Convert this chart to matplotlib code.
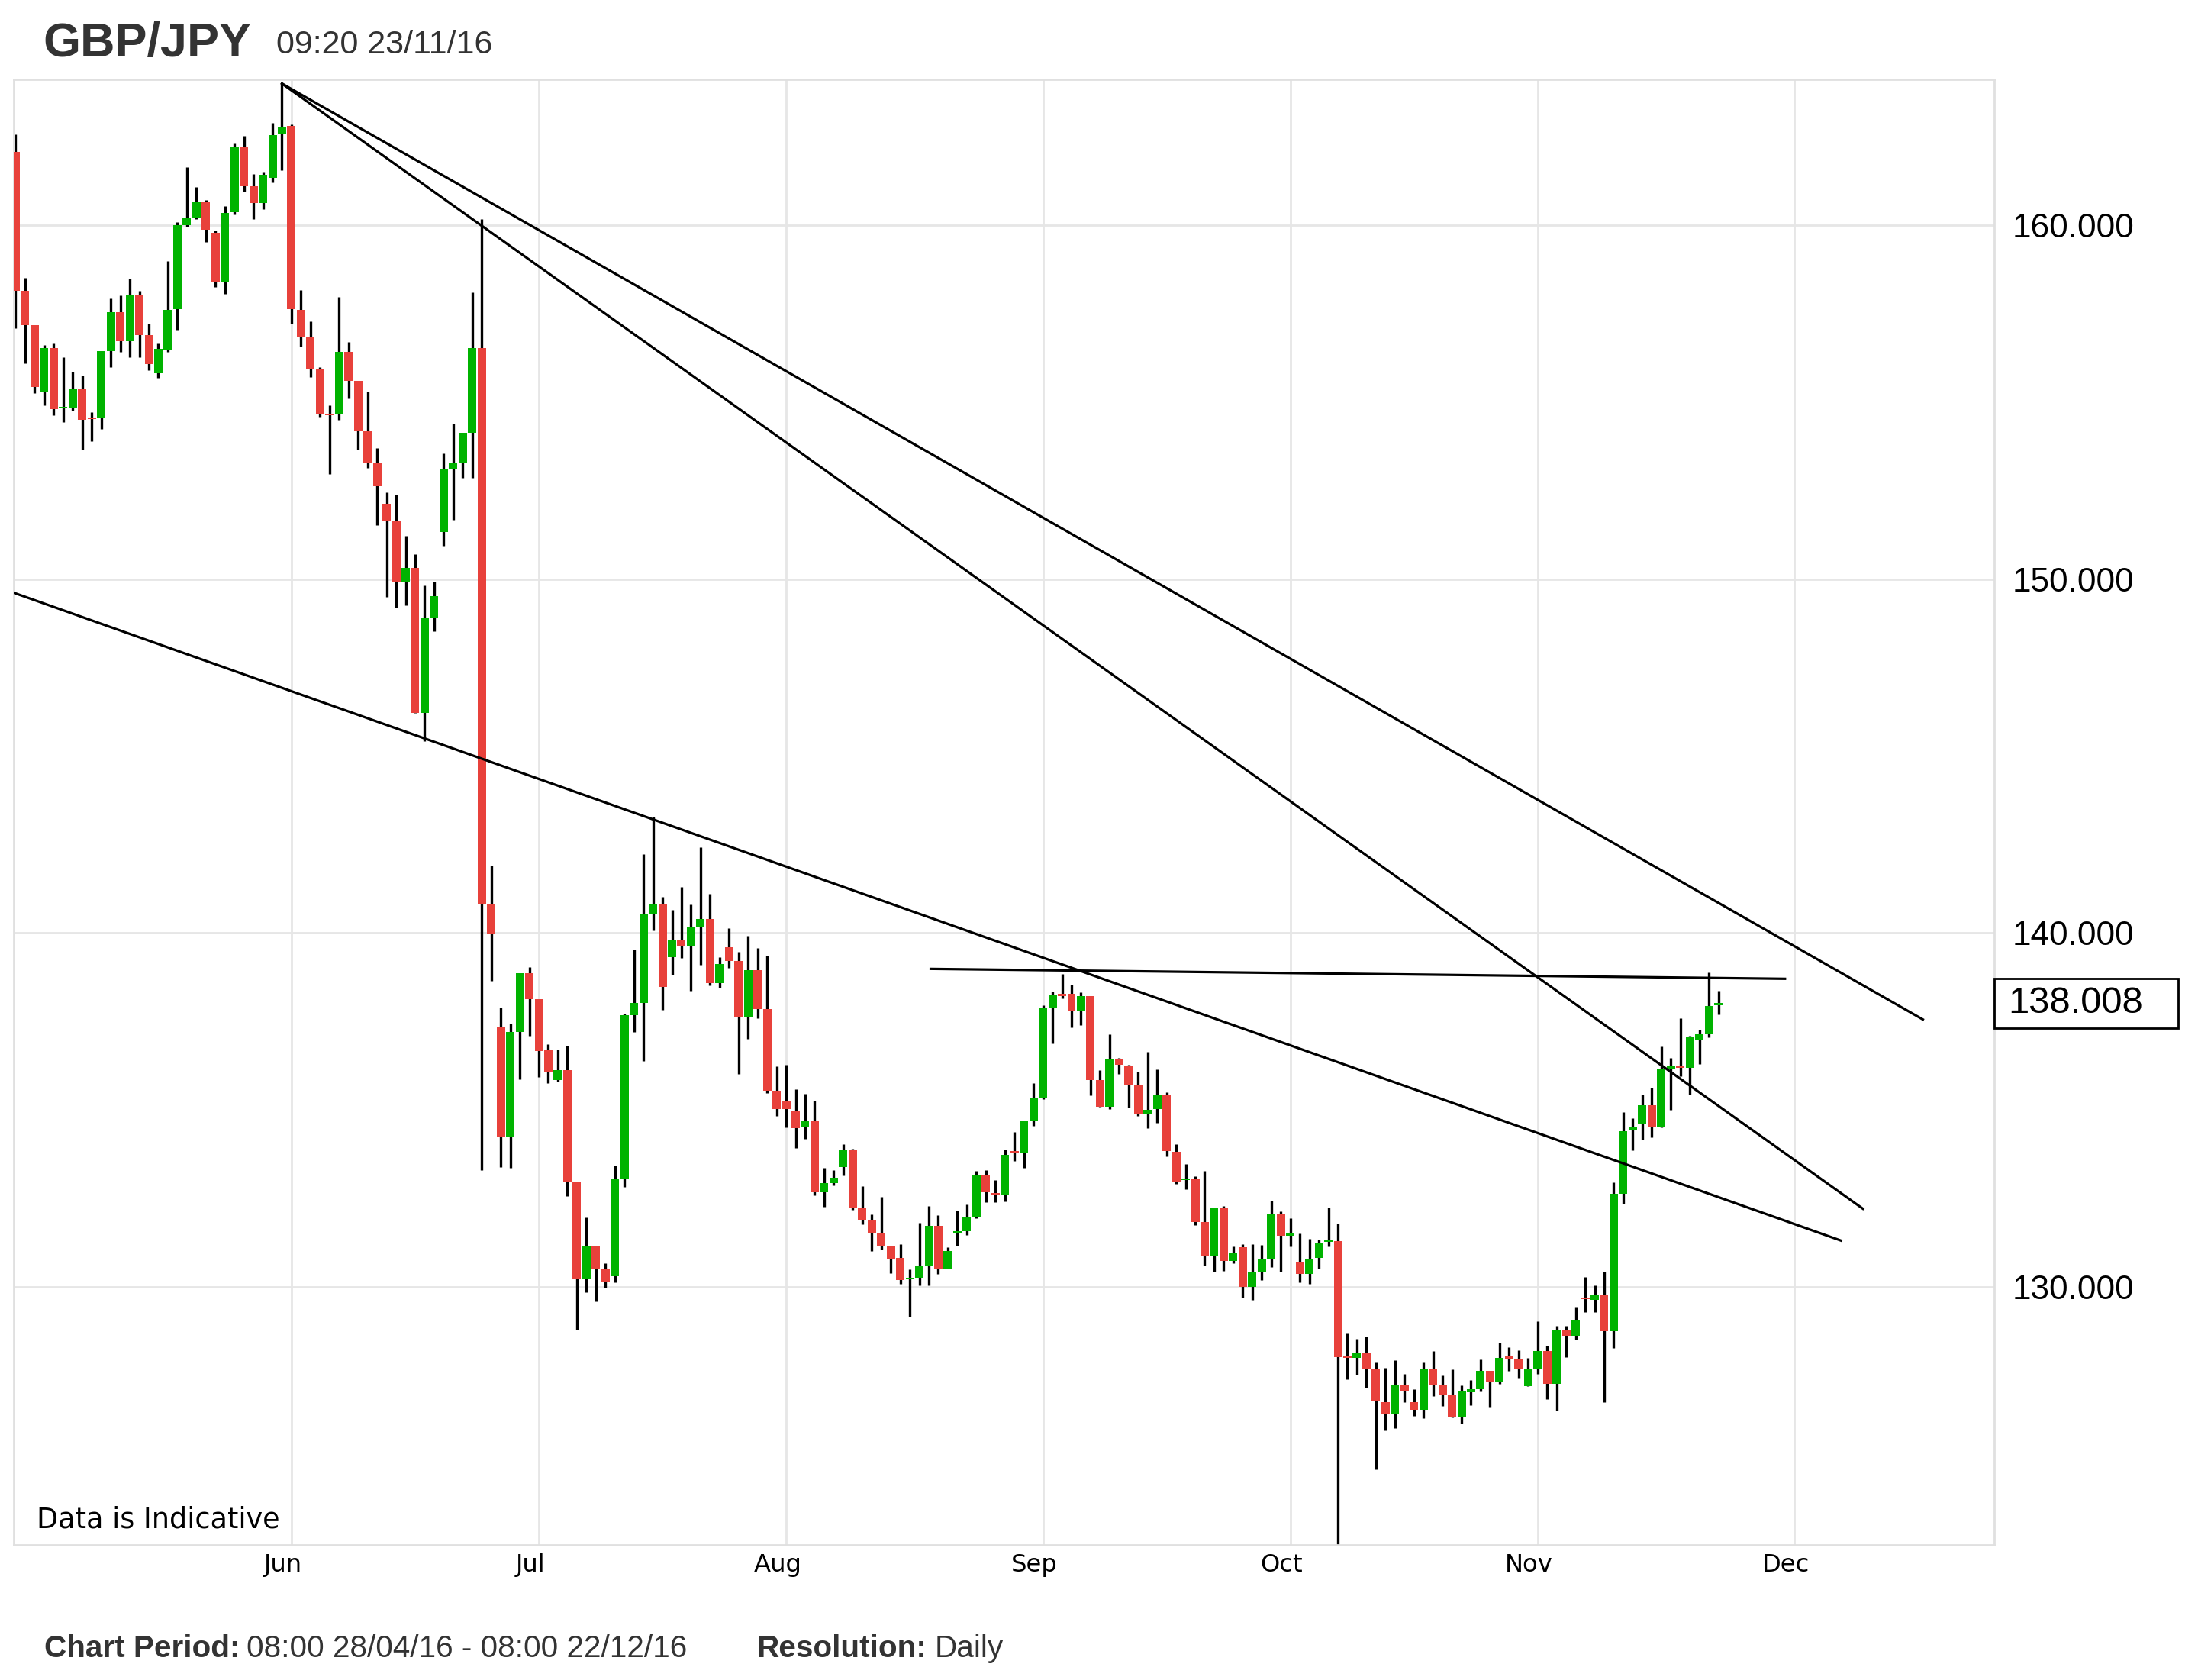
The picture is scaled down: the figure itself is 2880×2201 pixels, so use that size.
import matplotlib
matplotlib.use("Agg")
import matplotlib.pyplot as plt
import matplotlib.transforms as mtransforms
from matplotlib.patches import Rectangle
import numpy as np

plt.rcParams['font.family'] = ['Liberation Sans', 'DejaVu Sans']

# Daily GBP/JPY candles, Sun-Fri sessions, 28/04/16 .. 23/11/16
opens = [162.06, 158.15, 157.18, 155.29, 156.53, 154.82, 154.84, 155.37, 154.55, 154.56,
         156.45, 157.54, 156.73, 158.01, 156.89, 155.82, 156.47, 157.63, 160.00, 160.22,
         160.64, 159.79, 158.39, 160.36, 162.21, 161.11, 160.62, 161.33, 162.57, 162.80,
         157.60, 156.85, 155.94, 154.64, 154.64, 156.41, 155.59, 154.17, 153.28, 152.12,
         151.64, 149.91, 150.32, 146.21, 148.90, 151.33, 153.10, 153.30, 154.13, 156.53,
         140.79, 137.35, 134.24, 137.20, 138.86, 138.12, 136.67, 135.83, 136.12, 132.94,
         130.23, 131.13, 130.48, 130.29, 133.06, 137.67, 138.02, 140.55, 140.82, 139.31,
         139.78, 139.64, 140.16, 140.39, 138.58, 139.59, 139.20, 137.62, 138.94, 137.84,
         135.53, 135.23, 134.98, 134.49, 134.69, 132.67, 132.93, 133.37, 133.87, 132.21,
         131.89, 131.52, 131.15, 130.81, 130.20, 130.24, 130.59, 131.71, 130.50, 131.51,
         131.57, 131.97, 133.17, 132.65, 132.60, 133.82, 133.79, 134.69, 135.33, 137.88,
         138.24, 138.27, 137.79, 138.22, 135.83, 135.09, 136.42, 136.22, 135.68, 134.86,
         135.01, 135.40, 133.81, 133.01, 133.06, 131.83, 130.85, 132.23, 130.72, 131.12,
         129.99, 130.43, 130.77, 132.05, 131.44, 130.68, 130.36, 130.81, 131.26, 131.28,
         128.01, 127.99, 128.12, 127.66, 126.73, 126.38, 127.23, 126.73, 126.51, 127.67,
         127.24, 126.94, 126.32, 127.02, 127.10, 127.61, 127.32, 128.00, 127.96, 127.19,
         127.67, 128.18, 127.26, 128.77, 128.61, 129.68, 129.62, 129.75, 128.74, 132.63,
         134.43, 134.61, 135.13, 134.53, 136.17, 136.22, 136.19, 136.99, 137.14, 137.96]
highs = [162.57, 158.51, 157.18, 156.62, 156.65, 156.27, 155.86, 155.76, 154.72, 156.44,
         157.92, 158.01, 158.49, 158.15, 157.22, 156.65, 158.98, 160.08, 161.64, 161.07,
         160.71, 159.85, 160.54, 162.30, 162.53, 161.44, 161.50, 162.90, 164.00, 162.85,
         158.17, 157.28, 155.98, 154.91, 157.98, 156.69, 155.59, 155.29, 153.69, 152.45,
         152.39, 151.21, 150.70, 149.81, 149.93, 153.54, 154.38, 154.13, 158.11, 160.17,
         141.91, 137.88, 137.44, 138.86, 139.02, 138.12, 136.85, 136.70, 136.80, 132.94,
         131.95, 131.16, 130.67, 133.42, 137.71, 139.52, 142.22, 143.28, 141.01, 140.65,
         141.30, 140.80, 142.41, 141.11, 139.32, 140.14, 139.47, 139.92, 139.57, 139.35,
         136.23, 136.27, 135.57, 135.45, 135.25, 133.35, 133.29, 134.03, 133.89, 132.83,
         132.04, 132.53, 131.15, 131.20, 130.48, 131.81, 132.27, 132.01, 131.11, 132.15,
         132.33, 133.27, 133.29, 133.01, 133.87, 134.38, 134.69, 135.75, 137.96, 138.35,
         138.83, 138.53, 138.31, 138.22, 136.12, 137.14, 136.47, 136.26, 136.08, 136.63,
         136.14, 135.50, 134.03, 133.47, 133.13, 133.27, 132.24, 132.27, 131.14, 131.21,
         131.21, 131.17, 132.42, 132.12, 131.93, 131.51, 131.35, 131.33, 132.23, 131.78,
         128.68, 128.53, 128.60, 127.85, 127.71, 127.93, 127.53, 127.10, 127.85, 128.18,
         127.48, 127.67, 127.21, 127.35, 127.94, 127.61, 128.42, 128.28, 128.21, 127.99,
         129.03, 128.34, 128.89, 128.89, 129.44, 130.27, 130.03, 130.43, 132.95, 134.94,
         134.77, 135.42, 135.63, 136.78, 136.47, 137.59, 137.08, 137.26, 138.87, 138.37]
lows = [157.09, 156.09, 155.25, 154.91, 154.62, 154.43, 154.76, 153.66, 153.89, 154.25,
        155.98, 156.41, 156.26, 156.26, 155.91, 155.68, 156.41, 157.04, 159.96, 160.17,
        159.53, 158.25, 158.05, 160.30, 160.95, 160.18, 160.46, 161.21, 161.56, 157.22,
        156.57, 155.70, 154.58, 152.96, 154.49, 155.11, 153.66, 153.14, 151.53, 149.49,
        149.20, 149.25, 146.21, 145.41, 148.52, 150.93, 151.68, 152.86, 152.86, 133.30,
        138.65, 133.37, 133.35, 135.87, 137.09, 135.92, 135.76, 135.80, 132.56, 128.79,
        129.83, 129.59, 129.97, 130.13, 132.82, 137.20, 136.38, 140.07, 137.83, 138.82,
        139.30, 138.36, 139.10, 138.51, 138.44, 139.01, 136.00, 137.01, 137.59, 135.47,
        134.83, 134.50, 133.91, 134.17, 132.59, 132.25, 132.87, 133.15, 132.16, 131.76,
        131.01, 131.04, 130.38, 130.07, 129.15, 130.03, 130.03, 130.35, 130.50, 131.15,
        131.45, 131.93, 132.39, 132.39, 132.41, 133.55, 133.35, 134.55, 135.30, 136.88,
        138.15, 137.32, 137.40, 135.41, 135.09, 135.01, 136.02, 135.07, 134.82, 134.47,
        134.64, 133.69, 132.91, 132.76, 131.73, 130.60, 130.42, 130.45, 130.65, 129.70,
        129.63, 130.19, 130.56, 130.43, 131.13, 130.13, 130.07, 130.50, 131.14, 122.40,
        127.39, 127.50, 127.14, 124.83, 125.94, 125.99, 126.73, 126.35, 126.28, 126.91,
        126.62, 126.30, 126.14, 126.64, 127.03, 126.60, 127.26, 127.61, 127.42, 127.19,
        127.53, 126.83, 126.49, 128.01, 128.50, 129.28, 129.28, 126.73, 128.26, 132.34,
        133.86, 134.16, 134.21, 134.49, 134.99, 135.95, 135.42, 136.30, 137.05, 137.69]
closes = [158.15, 157.18, 155.43, 156.53, 154.79, 154.84, 155.37, 154.49, 154.52, 156.44,
          157.54, 156.73, 158.01, 156.89, 156.08, 156.51, 157.60, 159.99, 160.21, 160.65,
          159.87, 158.39, 160.34, 162.21, 161.11, 160.62, 161.42, 162.54, 162.78, 157.63,
          156.85, 155.94, 154.64, 154.62, 156.41, 155.59, 154.17, 153.28, 152.63, 151.64,
          149.91, 150.32, 146.21, 148.90, 149.51, 153.10, 153.28, 154.13, 156.53, 140.79,
          139.95, 134.24, 137.20, 138.86, 138.12, 136.65, 136.08, 136.12, 132.94, 130.23,
          131.13, 130.50, 130.13, 133.06, 137.67, 138.02, 140.53, 140.82, 138.48, 139.78,
          139.64, 140.16, 140.39, 138.58, 139.11, 139.21, 137.62, 138.94, 137.84, 135.53,
          135.01, 135.01, 134.47, 134.69, 132.67, 132.93, 133.07, 133.87, 132.21, 131.89,
          131.52, 131.15, 130.80, 130.19, 130.23, 130.59, 131.71, 130.50, 131.01, 131.57,
          131.97, 133.17, 132.67, 132.60, 133.73, 133.79, 134.69, 135.33, 137.88, 138.24,
          138.22, 137.79, 138.22, 135.84, 135.09, 136.42, 136.26, 135.68, 134.86, 135.00,
          135.40, 133.83, 132.94, 133.06, 131.83, 130.85, 132.23, 130.72, 130.95, 130.00,
          130.42, 130.76, 132.05, 131.44, 131.51, 130.36, 130.79, 131.24, 131.28, 128.01,
          127.99, 128.12, 127.66, 126.75, 126.38, 127.23, 127.05, 126.51, 127.67, 127.24,
          126.94, 126.32, 127.03, 127.10, 127.61, 127.32, 127.99, 127.97, 127.66, 127.67,
          128.18, 127.26, 128.77, 128.61, 129.07, 129.65, 129.75, 128.74, 132.63, 134.40,
          134.51, 135.13, 134.53, 136.15, 136.22, 136.19, 137.05, 137.14, 137.92, 138.01]

# month labels sit on the first session of each month (candle index)
month_labels = ['Jun', 'Jul', 'Aug', 'Sep', 'Oct', 'Nov', 'Dec']
month_pos = [29, 55, 81, 108, 134, 160, 187]

price_ticks = [130, 140, 150, 160]
last_price = 138.008

# hand drawn trend lines: (start index, start price, end index, end price)
trend_lines = [
    (28.0, 164.00, 200.5, 137.55),
    (28.0, 164.00, 194.2, 132.20),
    (-0.3, 149.62, 191.9, 131.30),
    (96.2, 138.98, 186.0, 138.70),
]

UP = '#00b300'
DOWN = '#e8413b'
GRID = '#e6e6e6'
DARK = '#333333'

W, H = 2880, 2201
fig = plt.figure(figsize=(W / 200, H / 200), dpi=200)
ax_l, ax_r, ax_t, ax_b = 18, 2613, 104, 2024
ax = fig.add_axes([ax_l / W, 1 - ax_b / H, (ax_r - ax_l) / W, (ax_b - ax_t) / H])

o = np.array(opens)
h = np.array(highs)
l = np.array(lows)
c = np.array(closes)
x = np.arange(len(o))

cols = [UP if cc >= oo else DOWN for oo, cc in zip(o, c)]
body_lo = np.minimum(o, c)
body_h = np.maximum(np.abs(c - o), 0.05)

ax.vlines(x, l, h, colors='black', linewidth=1.2, zorder=2)
ax.bar(x, body_h, bottom=body_lo, width=0.88, color=cols, linewidth=0, zorder=3)

for x0, y0, x1, y1 in trend_lines:
    ax.plot([x0, x1], [y0, y1], color='black', linewidth=1.15, zorder=4)

ax.set_xlim(-0.2, 208)
ax.set_ylim(122.7, 164.12)

ax.set_xticks(month_pos)
ax.set_xticklabels(month_labels, family='DejaVu Sans', fontsize=11.6)
ax.set_yticks(price_ticks)
ax.set_yticklabels(['%.3f' % v for v in price_ticks], fontsize=15.9)
ax.yaxis.tick_right()
ax.tick_params(axis='x', length=0, pad=4)
ax.tick_params(axis='y', length=0, pad=8.6)
# month names sit a little left of their grid line
shift = mtransforms.ScaledTranslation(-4 / 72, 0, fig.dpi_scale_trans)
for lab in ax.get_xticklabels():
    lab.set_transform(lab.get_transform() + shift)
ax.grid(True, color=GRID, linewidth=1.0, zorder=0)
ax.set_axisbelow(True)
for s in ax.spines.values():
    s.set_color('#e0e0e0')
    s.set_linewidth(1.0)

# latest price box on the right axis
trans = mtransforms.blended_transform_factory(ax.transAxes, ax.transData)
box_w = (2854 - ax_r) / (ax_r - ax_l)
ax.add_patch(Rectangle((1.0, last_price - 0.70), box_w, 1.40, transform=trans,
                       facecolor='white', edgecolor='black', linewidth=1.0,
                       clip_on=False, zorder=5))
ax.text(1.0 + 18 / (ax_r - ax_l), last_price, '%.3f' % last_price, transform=trans,
        ha='left', va='center', fontsize=17.6, color='black', zorder=6)

ax.text(48 / W, 1 - 2002 / H, 'Data is Indicative', transform=fig.transFigure,
        family='DejaVu Sans', fontsize=13.2, va='baseline', ha='left', color='black')

# header
fig.text(56 / W, 1 - 74 / H, 'GBP/JPY', fontsize=22.7, weight='bold', color=DARK,
         va='baseline', ha='left')
fig.text(362 / W, 1 - 70 / H, '09:20 23/11/16', fontsize=15.5, color=DARK,
         va='baseline', ha='left')

# footer
fy = 1 - 2171 / H
fig.text(58 / W, fy, 'Chart Period:', fontsize=14.6, weight='bold', color=DARK, va='baseline')
fig.text(323 / W, fy, '08:00 28/04/16 - 08:00 22/12/16', fontsize=14.6, color=DARK, va='baseline')
fig.text(991 / W, fy, 'Resolution:', fontsize=14.6, weight='bold', color=DARK, va='baseline')
fig.text(1225 / W, fy, 'Daily', fontsize=14.6, color=DARK, va='baseline')

fig.savefig('out.png', dpi=200, facecolor='white')
